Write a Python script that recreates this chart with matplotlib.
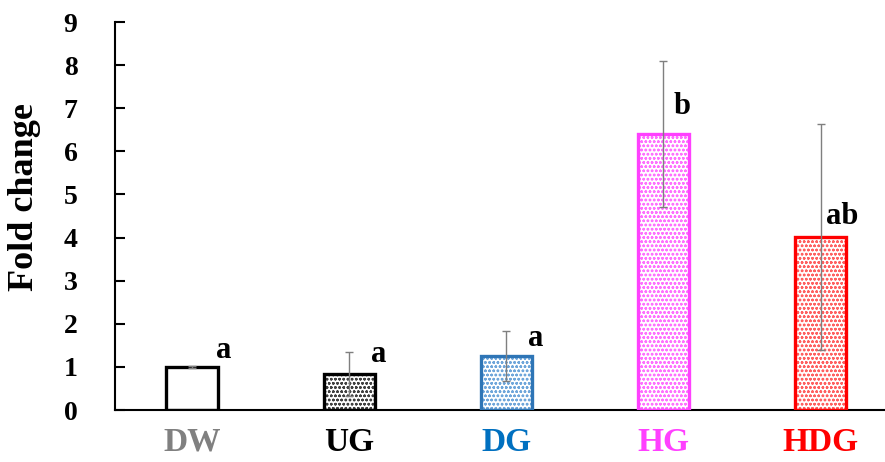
import matplotlib
matplotlib.use('Agg')
import matplotlib.pyplot as plt
import numpy as np

plt.rcParams['font.family'] = 'Liberation Serif'
plt.rcParams['font.weight'] = 'bold'
plt.rcParams['hatch.linewidth'] = 0.7

# groups and measured fold change (mean +/- error)
groups = ['DW', 'UG', 'DG', 'HG', 'HDG']
fold = [1.0, 0.84, 1.25, 6.40, 4.02]
err = [0.02, 0.51, 0.58, 1.70, 2.62]
letters = ['a', 'a', 'a', 'b', 'ab']

# styling per group
edge_cols = ['black', 'black', '#2e75b6', '#ff40ff', '#ff0000']
hatch_cols = ['white', '#404040', '#6fa6da', '#ff70ff', '#ff6060']
hatches = ['', 'oooo', 'oooo', 'oooo', 'oooo']
label_cols = ['#808080', 'black', '#0070c0', '#ff40ff', '#ff0000']
letter_dx = [0.2, 0.19, 0.185, 0.12, 0.14]
letter_y = [1.39, 1.28, 1.67, 7.03, 4.48]

fig = plt.figure(figsize=(8.85, 4.62), dpi=100)
ax = fig.add_axes([115 / 885, 52 / 462, 770 / 885, 388 / 462])

x = np.arange(len(groups))
w = 0.325

# hatched fill first, then the thick outline on top
ax.bar(x, fold, w, color='white', edgecolor=hatch_cols, hatch=hatches,
       linewidth=0, zorder=2)
ax.bar(x, fold, w, fill=False, edgecolor=edge_cols, linewidth=2.4, zorder=3)
ax.errorbar(x, fold, yerr=err, fmt='none', ecolor='#7f7f7f', elinewidth=1,
            capsize=3, capthick=1, zorder=4)

for i in range(len(groups)):
    ax.text(x[i] + letter_dx[i], letter_y[i], letters[i], ha='center',
            va='center', fontsize=22, fontweight='bold')

ax.set_xlim(-0.49, 4.41)
ax.set_ylim(0, 9)
ax.set_yticks(range(10))
ax.set_xticks(x)
ax.set_xticklabels(groups, fontsize=24, fontweight='bold')
for lab, c in zip(ax.get_xticklabels(), label_cols):
    lab.set_color(c)

ax.tick_params(axis='x', length=0, pad=12)
ax.tick_params(axis='y', direction='in', length=7, width=1.5, labelsize=20,
               pad=27)
for s in ['top', 'right']:
    ax.spines[s].set_visible(False)
ax.spines['left'].set_linewidth(1.5)
ax.spines['bottom'].set_linewidth(1.5)

fig.text(25 / 885, 1 - 197 / 462, 'Fold change', rotation=90, ha='center',
         va='center', fontsize=26, fontweight='bold')

fig.savefig('out.png', dpi=100)
